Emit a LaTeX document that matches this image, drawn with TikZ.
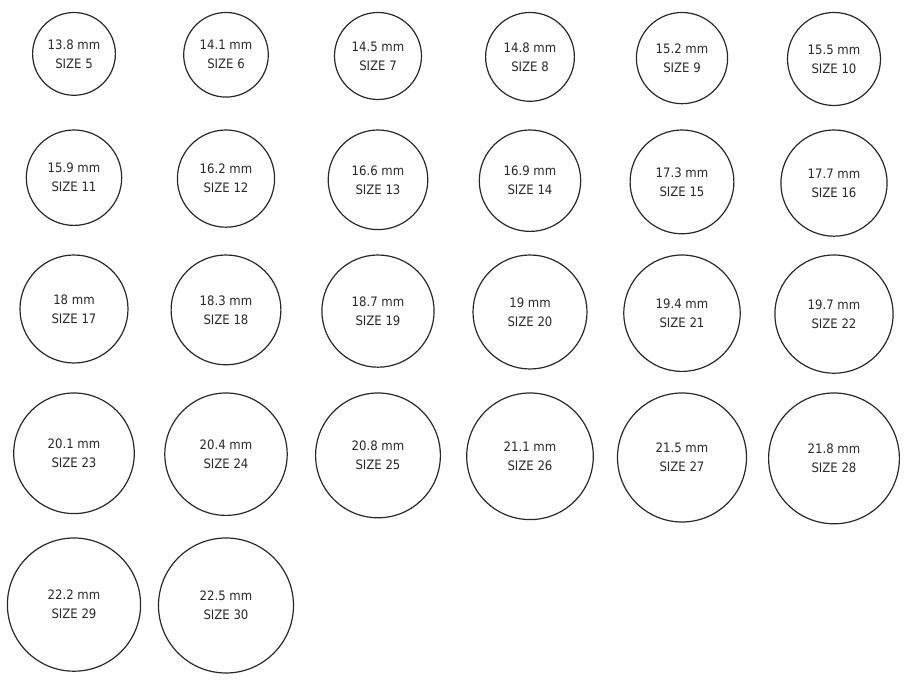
\documentclass[tikz,border=0pt]{standalone}
\usepackage{fontspec}
\setmainfont{DejaVu Sans Condensed}
\usepackage{tikz}
\definecolor{ringInk}{RGB}{40,40,40}

\begin{document}
\begin{tikzpicture}[x=1pt, y=1pt,
    ring/.style={circle, draw=ringInk, line width=1.2pt, inner sep=0pt,
                 align=center, text=ringInk,
                 font=\fontsize{13}{19}\selectfont}]
  \useasboundingbox (0,0) rectangle (906,-692);
  % one row per line: top edge, first size, diameters
  \foreach \rtop/\first/\dlist in {
      12.5/5/{13.8,14.1,14.5,14.8,15.2,15.5},
      130/11/{15.9,16.2,16.6,16.9,17.3,17.7},
      255/17/{18,18.3,18.7,19,19.4,19.7},
      393/23/{20.1,20.4,20.8,21.1,21.5,21.8},
      538/29/{22.2,22.5}}{
    \foreach \d [count=\c from 0] in \dlist {
      \pgfmathtruncatemacro\s{\first+\c}
      \node[ring, minimum size={6*\d pt}] (ring\s)
        at ({74+152*\c}, {-(\rtop+3*\d)}) {\d~mm\\SIZE \s};
    }
  }
\end{tikzpicture}
\end{document}
